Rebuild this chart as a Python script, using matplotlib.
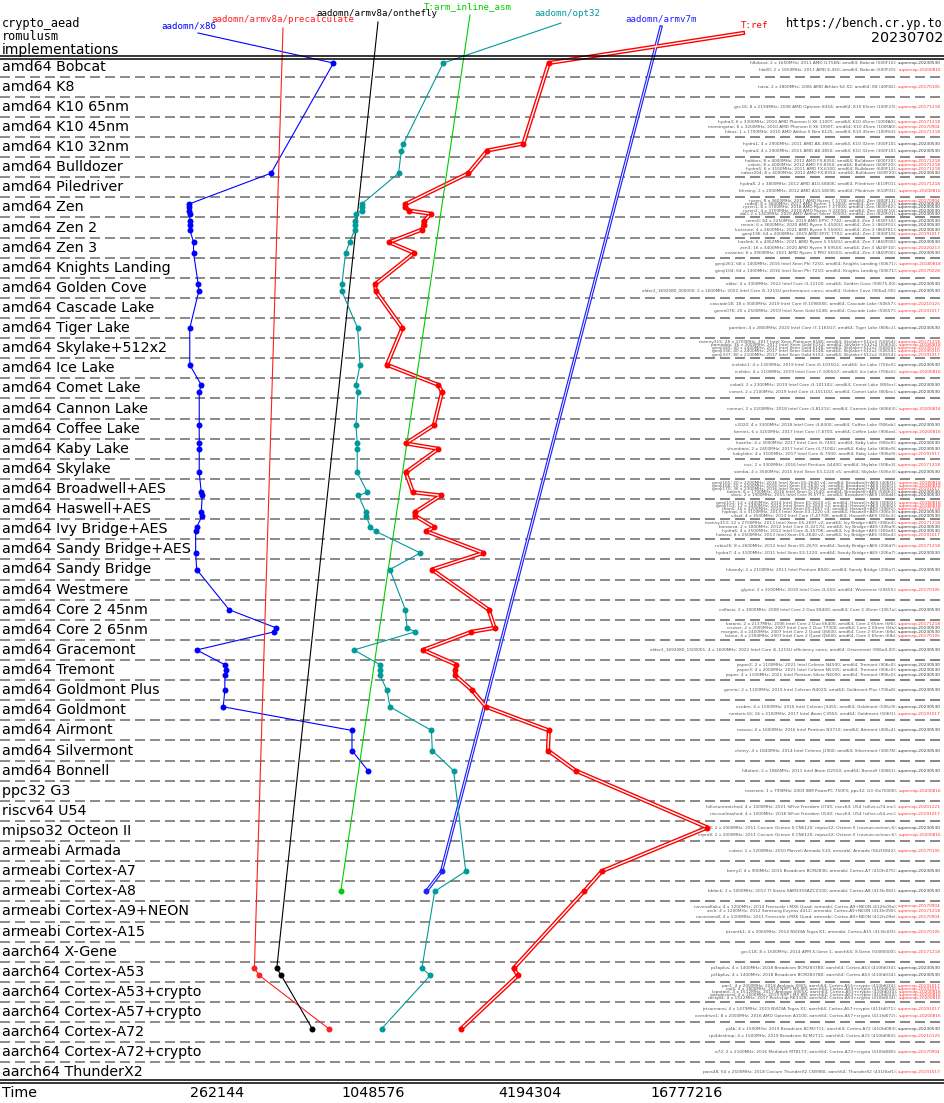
import numpy as np
import matplotlib
matplotlib.use('agg')
import matplotlib.pyplot as plt
from matplotlib.lines import Line2D

W, H = 945, 1103

# ---------------------------------------------------------------- data
rows = ["amd64 Bobcat", "amd64 K8", "amd64 K10 65nm", "amd64 K10 45nm", "amd64 K10 32nm",
        "amd64 Bulldozer", "amd64 Piledriver", "amd64 Zen", "amd64 Zen 2", "amd64 Zen 3",
        "amd64 Knights Landing", "amd64 Golden Cove", "amd64 Cascade Lake", "amd64 Tiger Lake",
        "amd64 Skylake+512x2", "amd64 Ice Lake", "amd64 Comet Lake", "amd64 Cannon Lake",
        "amd64 Coffee Lake", "amd64 Kaby Lake", "amd64 Skylake", "amd64 Broadwell+AES",
        "amd64 Haswell+AES", "amd64 Ivy Bridge+AES", "amd64 Sandy Bridge+AES", "amd64 Sandy Bridge",
        "amd64 Westmere", "amd64 Core 2 45nm", "amd64 Core 2 65nm", "amd64 Gracemont",
        "amd64 Tremont", "amd64 Goldmont Plus", "amd64 Goldmont", "amd64 Airmont",
        "amd64 Silvermont", "amd64 Bonnell", "ppc32 G3", "riscv64 U54", "mipso32 Octeon II",
        "armeabi Armada", "armeabi Cortex-A7", "armeabi Cortex-A8", "armeabi Cortex-A9+NEON",
        "armeabi Cortex-A15", "aarch64 X-Gene", "aarch64 Cortex-A53", "aarch64 Cortex-A53+crypto",
        "aarch64 Cortex-A57+crypto", "aarch64 Cortex-A72", "aarch64 Cortex-A72+crypto",
        "aarch64 ThunderX2"]

# machines per row: (description, supercop version)
machines = [
    [("h8obcat; 2 x 1650MHz; 2011 AMD G-T56N; amd64; Bobcat (500F10)", "20230530"),
     ("hla00; 2 x 1650MHz; 2011 AMD E-450; amd64; Bobcat (500F20)", "20200816")],
    [("nasa; 2 x 2800MHz; 2006 AMD Athlon 64 X2; amd64; K8 (40F82)", "20170105")],
    [("gcc16; 8 x 2194MHz; 2008 AMD Opteron 8354; amd64; K10 65nm (100F23)", "20171218")],
    [("hydra3; 6 x 3300MHz; 2010 AMD Phenom II X6 1100T; amd64; K10 45nm (100FA0)", "20171218"),
     ("morningstar; 6 x 3200MHz; 2010 AMD Phenom II X6 1090T; amd64; K10 45nm (100FA0)", "20170904"),
     ("hlaus; 1 x 1700MHz; 2010 AMD Athlon II Neo K125; amd64; K10 45nm (100F63)", "20171218")],
    [("hydra1; 4 x 2900MHz; 2011 AMD A8-3850; amd64; K10 32nm (300F10)", "20230530"),
     ("hydra4; 4 x 2900MHz; 2011 AMD A8-3850; amd64; K10 32nm (300F10)", "20230530")],
    [("hobbes; 8 x 4000MHz; 2012 AMD FX-8350; amd64; Bulldozer (600F20)", "20171218"),
     ("caloin; 8 x 4000MHz; 2012 AMD FX-8350; amd64; Bulldozer (600F20)", "20171218"),
     ("hydra5; 6 x 3100MHz; 2011 AMD FX-6100; amd64; Bulldozer (600F12)", "20171218"),
     ("naber204; 8 x 4000MHz; 2012 AMD FX-8350; amd64; Bulldozer (600F20)", "20230530")],
    [("hydra8; 2 x 3800MHz; 2012 AMD A10-5800K; amd64; Piledriver (610F01)", "20171218"),
     ("bhrainy; 2 x 2000MHz; 2012 AMD A10-5800K; amd64; Piledriver (610F01)", "20200816")],
    [("ryzen; 8 x 3600MHz; 2017 AMD Ryzen 7 1700; amd64; Zen (800F11)", "20170904"),
     ("rudolf; 8 x 3600MHz; 2017 AMD Ryzen 7 1700X; amd64; Zen (800F11)", "20230530"),
     ("ryzen1; 8 x 3700MHz; 2018 AMD Ryzen 7 2700X; amd64; Zen (800F82)", "20230530"),
     ("ryzen2; 4 x 3700MHz; 2018 AMD Ryzen 3 2200G; amd64; Zen (810F10)", "20230530"),
     ("dali; 2 x 1400MHz; 2020 AMD Athlon Silver 3050U; amd64; Zen (820F01)", "20230530")],
    [("rome0; 64 x 2250MHz; 2019 AMD EPYC 7742; amd64; Zen 2 (830F10)", "20230530"),
     ("renoir; 6 x 3600MHz; 2020 AMD Ryzen 5 4500U; amd64; Zen 2 (860F01)", "20230530"),
     ("lucienne; 4 x 2600MHz; 2021 AMD Ryzen 5 5500U; amd64; Zen 2 (860F81)", "20230530"),
     ("genji196; 64 x 2000MHz; 2019 AMD EPYC 7702; amd64; Zen 2 (830F10)", "20191017")],
    [("hazlink; 6 x 4062MHz; 2021 AMD Ryzen 5 5560U; amd64; Zen 3 (A50F00)", "20230530"),
     ("zen3; 16 x 3400MHz; 2020 AMD Ryzen 9 5950X; amd64; Zen 3 (A20F10)", "20220213"),
     ("cezanne; 6 x 3900MHz; 2021 AMD Ryzen 5 PRO 5650G; amd64; Zen 3 (A50F00)", "20230530")],
    [("genji261; 68 x 1400MHz; 2016 Intel Xeon Phi 7250; amd64; Knights Landing (50671)", "20180818"),
     ("genji104; 64 x 1300MHz; 2016 Intel Xeon Phi 7210; amd64; Knights Landing (50671)", "20170228")],
    [("alder; 4 x 3300MHz; 2022 Intel Core i3-12100; amd64; Golden Cove (90675-00)", "20230530"),
     ("alder2_1692080_000000; 2 x 1600MHz; 2022 Intel Core i5-1215U performance cores; amd64; Golden Cove (906a4-00)", "20230530")],
    [("cascade18; 18 x 3000MHz; 2019 Intel Core i9-10980XE; amd64; Cascade Lake (50657)", "20210125"),
     ("genm076; 20 x 2500MHz; 2019 Intel Xeon Gold 6248; amd64; Cascade Lake (50657)", "20191017")],
    [("pamber; 4 x 2800MHz; 2020 Intel Core i7-1165G7; amd64; Tiger Lake (806c1)", "20230530")],
    [("manny315; 28 x 2700MHz; 2017 Intel Xeon Platinum 8180; amd64; Skylake+512x2 (50654)", "20171218"),
     ("pamaddx; 36 x 3000MHz; 2017 Intel Xeon Gold 6154; amd64; Skylake+512x2 (50654)", "20180818"),
     ("genji345; 40 x 2400MHz; 2017 Intel Xeon Gold 6148; amd64; Skylake+512x2 (50654)", "20190110"),
     ("genji336; 40 x 2400MHz; 2017 Intel Xeon Gold 6148; amd64; Skylake+512x2 (50654)", "20190110"),
     ("genji337; 80 x 2100MHz; 2017 Intel Xeon Gold 6152; amd64; Skylake+512x2 (50654)", "20191017")],
    [("icelake1; 4 x 1300MHz; 2019 Intel Core i5-1035G1; amd64; Ice Lake (706e5)", "20230530"),
     ("icelake; 4 x 1100MHz; 2019 Intel Core i7-1065G7; amd64; Ice Lake (706e5)", "20200816")],
    [("cobalt; 2 x 2300MHz; 2019 Intel Core i3-10110U; amd64; Comet Lake (806ec)", "20230530"),
     ("comet; 2 x 2100MHz; 2019 Intel Core i3-10110U; amd64; Comet Lake (806ec)", "20230530")],
    [("cannon; 2 x 2200MHz; 2018 Intel Core i3-8121U; amd64; Cannon Lake (60663)", "20200816")],
    [("c2020; 4 x 3300MHz; 2018 Intel Core i3-8300; amd64; Coffee Lake (906eb)", "20230530"),
     ("berries; 6 x 3200MHz; 2017 Intel Core i7-8700; amd64; Coffee Lake (906ea)", "20200816")],
    [("kaarike; 4 x 3000MHz; 2017 Intel Core i5-7400; amd64; Kaby Lake (906e9)", "20230530"),
     ("shumbara; 2 x 2400MHz; 2017 Intel Core i3-7100U; amd64; Kaby Lake (806e9)", "20230530"),
     ("kabylake; 4 x 3100MHz; 2017 Intel Core i5-7500; amd64; Kaby Lake (906e9)", "20191017")],
    [("nuc; 2 x 3300MHz; 2016 Intel Pentium G4400; amd64; Skylake (506e3)", "20171218"),
     ("samba; 4 x 3500MHz; 2015 Intel Xeon E3-1220 v5; amd64; Skylake (506e3)", "20230530")],
    [("genji165; 20 x 2200MHz; 2016 Intel Xeon E5-2630 v4; amd64; Broadwell+AES (406f1)", "20180818"),
     ("genji166; 20 x 2200MHz; 2016 Intel Xeon E5-2630 v4; amd64; Broadwell+AES (406f1)", "20180818"),
     ("genji170; 36 x 2300MHz; 2016 Intel Xeon E5-2699 v4; amd64; Broadwell+AES (406f1)", "20191017"),
     ("bolero; 8 x 1700MHz; 2016 Intel Xeon D-1540; amd64; Broadwell+AES (50663)", "20230530"),
     ("sbox; 2 x 1900MHz; 2015 Intel Core M-5Y71; amd64; Broadwell+AES (306d4)", "20230530")],
    [("genji152; 12 x 2400MHz; 2014 Intel Xeon E5-2620 v3; amd64; Haswell+AES (306f2)", "20180818"),
     ("genji153; 12 x 2400MHz; 2014 Intel Xeon E5-2620 v3; amd64; Haswell+AES (306f2)", "20180818"),
     ("titan0; 16 x 3200MHz; 2014 Intel Xeon E5-2667 v3; amd64; Haswell+AES (306f2)", "20171218"),
     ("hiphop; 4 x 3100MHz; 2013 Intel Xeon E3-1220 v3; amd64; Haswell+AES (306c3)", "20230530"),
     ("vitsel; 4 x 3500MHz; 2013 Intel Core i7-4770K; amd64; Haswell+AES (306c3)", "20230530")],
    [("manny313; 12 x 2700MHz; 2013 Intel Xeon E5-2697 v2; amd64; Ivy Bridge+AES (306e4)", "20171218"),
     ("bonanza; 2 x 1800MHz; 2012 Intel Core i3-3217U; amd64; Ivy Bridge+AES (306a9)", "20230530"),
     ("hydra6; 4 x 3500MHz; 2012 Intel Core i5-3570K; amd64; Ivy Bridge+AES (306a9)", "20230530"),
     ("hoboro; 8 x 2500MHz; 2013 Intel Xeon E5-2640 v2; amd64; Ivy Bridge+AES (306e4)", "20191017")],
    [("rubio26; 8 x 2600MHz; 2012 Intel Xeon E5-2670; amd64; Sandy Bridge+AES (206d7)", "20171218"),
     ("hydra7; 4 x 3100MHz; 2011 Intel Xeon E3-1220; amd64; Sandy Bridge+AES (206a7)", "20230530")],
    [("hlsandy; 2 x 2100MHz; 2011 Intel Pentium B940; amd64; Sandy Bridge (206a7)", "20230530")],
    [("glyme; 2 x 3200MHz; 2010 Intel Core i3-550; amd64; Westmere (20655)", "20170105")],
    [("colfaxis; 2 x 3000MHz; 2008 Intel Core 2 Duo E8400; amd64; Core 2 45nm (1067a)", "20230530")],
    [("katana; 2 x 2137MHz; 2006 Intel Core 2 Duo E6400; amd64; Core 2 65nm (6f6)", "20171218"),
     ("cruiser; 2 x 2000MHz; 2007 Intel Core 2 Duo T7300; amd64; Core 2 65nm (6fa)", "20230530"),
     ("morgan; 4 x 2400MHz; 2007 Intel Core 2 Quad Q6600; amd64; Core 2 65nm (6fb)", "20230530"),
     ("latour; 4 x 2394MHz; 2007 Intel Core 2 Quad Q6600; amd64; Core 2 65nm (6fb)", "20170105")],
    [("alder2_1692080_1500001; 4 x 1600MHz; 2022 Intel Core i5-1215U efficiency cores; amd64; Gracemont (906a4-00)", "20230530")],
    [("jasper2; 2 x 1100MHz; 2021 Intel Celeron N4500; amd64; Tremont (906c0)", "20230530"),
     ("jasper3; 4 x 2000MHz; 2021 Intel Celeron N5105; amd64; Tremont (906c0)", "20230530"),
     ("jasper; 4 x 1100MHz; 2021 Intel Pentium Silver N6000; amd64; Tremont (906c0)", "20230530")],
    [("gemini; 2 x 1100MHz; 2019 Intel Celeron N4020; amd64; Goldmont Plus (706a8)", "20230530")],
    [("ecobm; 4 x 1500MHz; 2016 Intel Celeron J3455; amd64; Goldmont (506c9)", "20230530"),
     ("neoteric16; 16 x 2100MHz; 2017 Intel Atom C3955; amd64; Goldmont (506f1)", "20191017")],
    [("maxau; 4 x 1600MHz; 2016 Intel Pentium N3710; amd64; Airmont (406c4)", "20230530")],
    [("cherry; 4 x 1840MHz; 2014 Intel Celeron J1900; amd64; Silvermont (30678)", "20230530")],
    [("h8atom; 2 x 1866MHz; 2011 Intel Atom D2550; amd64; Bonnell (30661)", "20230530")],
    [("macmini; 1 x 799MHz; 2003 IBM PowerPC 750FX; ppc32; G3 (0x70000)", "20200816")],
    [("hifiveunmatched; 4 x 1000MHz; 2021 SiFive Freedom U740; riscv64; U54 (sifive,u74-mc)", "20201221"),
     ("riscvunleashed; 4 x 1000MHz; 2018 SiFive Freedom U540; riscv64; U54 (sifive,u54-mc)", "20191017")],
    [("gcc23; 2 x 2000MHz; 2011 Cavium Octeon II CN6120; mipso32; Octeon II (cavium,octeon-6)", "20230530"),
     ("erpro8; 2 x 2000MHz; 2011 Cavium Octeon II CN6120; mipso32; Octeon II (cavium,octeon-6)", "20200816")],
    [("cubox; 1 x 1200MHz; 2010 Marvell Armada 510; armeabi; Armada (562f5842)", "20170105")],
    [("berry2; 4 x 900MHz; 2015 Broadcom BCM2836; armeabi; Cortex-A7 (410fc075)", "20230530")],
    [("bblack; 1 x 1000MHz; 2012 TI Sitara XAM3359AZCZ100; armeabi; Cortex-A8 (413fc082)", "20230530")],
    [("novenaKaliu; 4 x 1200MHz; 2014 Freescale i.MX6 Quad; armeabi; Cortex-A9+NEON (412fc09a)", "20170904"),
     ("arch; 4 x 1200MHz; 2012 Samsung Exynos 4412; armeabi; Cortex-A9+NEON (413fc090)", "20171218"),
     ("novenamdl; 4 x 1200MHz; 2011 Freescale i.MX6 Quad; armeabi; Cortex-A9+NEON (412fc09a)", "20170904")],
    [("jetsontk1; 4 x 2065MHz; 2014 NVIDIA Tegra K1; armeabi; Cortex-A15 (413fc0f3)", "20170105")],
    [("gcc118; 8 x 1600MHz; 2014 APM X-Gene 1; aarch64; X-Gene (500f0000)", "20171218")],
    [("pi3aplus; 4 x 1400MHz; 2018 Broadcom BCM2837B0; aarch64; Cortex-A53 (410fd034)", "20230530"),
     ("pi3bplus; 4 x 1400MHz; 2018 Broadcom BCM2837B0; aarch64; Cortex-A53 (410fd034)", "20230530")],
    [("par1; 4 x 2000MHz; 2018 Amlogic S905; aarch64; Cortex-A53+crypto (410fd034)", "20191017"),
     ("cpi4; 4 x 1800MHz; 2018 NXP i.MX 8M; aarch64; Cortex-A53+crypto (410fd034)", "20191017"),
     ("lxpotato; 4 x 1512MHz; 2017 Amlogic S905X; aarch64; Cortex-A53+crypto (410fd034)", "20200816"),
     ("googlecoral; 4 x 1500MHz; 2019 NXP i.MX 8M; aarch64; Cortex-A53+crypto (410fd034)", "20200816"),
     ("rockpi4; 4 x 1512MHz; 2017 Rockchip RK3328; aarch64; Cortex-A53+crypto (410fd034)", "20200816")],
    [("jetsonnano; 4 x 1479MHz; 2019 NVIDIA Tegra X1; aarch64; Cortex-A57+crypto (411fd071)", "20191017"),
     ("overdrive1; 8 x 2000MHz; 2016 AMD Opteron A1100; aarch64; Cortex-A57+crypto (411fd072)", "20200816")],
    [("pi4b; 4 x 1500MHz; 2019 Broadcom BCM2711; aarch64; Cortex-A72 (410fd083)", "20230530"),
     ("rpi4desktop; 4 x 1500MHz; 2019 Broadcom BCM2711; aarch64; Cortex-A72 (410fd083)", "20210125")],
    [("a72; 2 x 2100MHz; 2016 Mediatek MT8173; aarch64; Cortex-A72+crypto (410fd080)", "20170904")],
    [("pass48; 64 x 2500MHz; 2018 Cavium ThunderX2 CN9980; aarch64; ThunderX2 (431f0af1)", "20191017")],
]

# implementation results: (row, machine, cycles)
x86 = [(0, 0, 735000), (5, 3, 423000), (7, 1, 204000), (7, 2, 204000), (7, 3, 204000),
       (7, 4, 206000), (8, 0, 206000), (8, 1, 206000), (8, 2, 206000), (9, 0, 213000),
       (9, 2, 213000), (11, 0, 222000), (11, 1, 223000), (13, 0, 206000), (15, 0, 206000),
       (16, 0, 228000), (16, 1, 224000), (18, 0, 224000), (19, 0, 224000), (19, 1, 224000),
       (20, 1, 224000), (21, 3, 228000), (21, 4, 230000), (22, 3, 228000), (22, 4, 230000),
       (23, 1, 219000), (23, 2, 217000), (24, 1, 217000), (25, 0, 219000), (27, 0, 292000),
       (28, 1, 442000), (28, 2, 434000), (29, 0, 219000), (30, 0, 281000), (30, 1, 285000),
       (30, 2, 281000), (31, 0, 281000), (32, 0, 277000), (33, 0, 866000), (34, 0, 866000),
       (35, 0, 998000)]
opt32 = [(0, 0, 1942000), (4, 0, 1366000), (4, 1, 1341000), (5, 3, 1308000), (7, 1, 943000),
         (7, 2, 943000), (7, 3, 943000), (7, 4, 901000), (8, 0, 888000), (8, 1, 888000),
         (8, 2, 888000), (9, 0, 848000), (9, 2, 818000), (11, 0, 792000), (11, 1, 792000),
         (13, 0, 910000), (15, 0, 930000), (16, 0, 897000), (16, 1, 913000), (18, 0, 897000),
         (19, 0, 907000), (19, 1, 907000), (20, 1, 907000), (21, 3, 992000), (21, 4, 917000),
         (22, 3, 980000), (22, 4, 980000), (23, 1, 1020000), (23, 2, 1068000), (24, 1, 1585000),
         (25, 0, 1211000), (27, 0, 1389000), (28, 1, 1410000), (28, 2, 1513000), (29, 0, 882000),
         (30, 0, 1110000), (30, 1, 1110000), (30, 2, 1110000), (31, 0, 1180000), (32, 0, 1212000),
         (33, 0, 1750000), (34, 0, 1763000), (35, 0, 2129000), (40, 0, 2370000), (41, 0, 1801000),
         (45, 0, 1608000), (45, 1, 1732000), (48, 0, 1126000)]
ref = [(0, 0, 4946000), (4, 0, 3951000), (4, 1, 2869000), (5, 3, 2429000), (7, 1, 1390000),
       (7, 2, 1390000), (7, 3, 1438000), (7, 4, 1743000), (8, 0, 1631000), (8, 1, 1631000),
       (8, 2, 1610000), (9, 0, 1202000), (9, 2, 1504000), (11, 0, 1062000), (11, 1, 1071000),
       (13, 0, 1351000), (15, 0, 1180000), (16, 0, 1861000), (16, 1, 1922000), (18, 0, 1789000),
       (19, 0, 1393000), (19, 1, 1861000), (20, 1, 1393000), (21, 3, 1486000), (21, 4, 1901000),
       (22, 3, 1509000), (22, 4, 1509000), (23, 1, 1793000), (23, 2, 1672000), (24, 1, 2769000),
       (25, 0, 1758000), (27, 0, 2903000), (28, 1, 3060000), (28, 2, 2491000), (29, 0, 1624000),
       (30, 0, 2181000), (30, 1, 2160000), (30, 2, 2160000), (31, 0, 2507000), (32, 0, 2838000),
       (33, 0, 4946000), (34, 0, 4909000), (35, 0, 6275000), (38, 0, 20133000), (40, 0, 7903000),
       (41, 0, 6753000), (45, 0, 3618000), (45, 1, 3765000), (48, 0, 2278000)]
onthefly = [(45, 0, 445000), (45, 1, 463000), (48, 0, 609000)]
precalc = [(45, 0, 365000), (45, 1, 381000), (48, 0, 705000)]
inline_asm = [(41, 0, 784000)]
armv7m = [(40, 0, 1914000), (41, 0, 1672000)]

# name, data, colour, double-line widths (outer, inner) or None, label centre (px), leader start (px)
impls = [
    ("aadomn/x86", x86, "#0000ff", None, (189, 26), (198, 33)),
    ("aadomn/armv8a/precalculate", precalc, "#ff2020", None, (283, 20), (283, 28)),
    ("aadomn/armv8a/onthefly", onthefly, "#000000", None, (377, 13), (378, 22)),
    ("T:arm_inline_asm", inline_asm, "#00cc00", None, (468, 7), (470, 15)),
    ("aadomn/opt32", opt32, "#009a9a", None, (567, 14), (561, 23)),
    ("aadomn/armv7m", armv7m, "#2020ff", (2.4, 0.7), (661, 19), (661, 27)),
    ("T:ref", ref, "#ff0000", (3.0, 1.0), (755, 25), (743, 33)),
]

# ---------------------------------------------------------------- layout
TOP, BOT = 56.5, 1082.5
fig = plt.figure(figsize=(W / 100, H / 100), dpi=100)
ax = fig.add_axes([0, 1 - BOT / H, 1, (BOT - TOP) / H])
ax.set_xscale('log', base=2)
ax.set_xlim(2 ** (18 - 217 / 78.3), 2 ** (18 + (W - 217) / 78.3))
ax.set_ylim(len(rows) - 0.5, -0.5)
for s in ax.spines.values():
    s.set_visible(False)
ax.set_yticks([])
ax.set_xticks([2 ** 18, 2 ** 20, 2 ** 22, 2 ** 24],
              labels=["262144", "1048576", "4194304", "16777216"])
ax.tick_params(axis='x', length=0, pad=2.5, labelsize=10.3)
ax.minorticks_off()


def ypos(r, m):
    n = len(machines[r])
    s = min(0.35, 0.8 / n)
    return r + (m - (n - 1) / 2) * s


def from_px(px, py):
    return ax.transData.inverted().transform((px, H - py))


# row separators and frame lines
for k in range(len(rows) - 1):
    ax.axhline(k + 0.5, color='#777777', lw=1.2, ls=(0, (6, 3)), zorder=1)
for py in (56, 59, 1079.5, 1083):
    fig.add_artist(Line2D([0, 1], [1 - py / H] * 2, color='black', lw=1.1))

ytr = ax.get_yaxis_transform()
for r, name in enumerate(rows):
    ax.text(2 / W, r, name, transform=ytr, ha='left', va='center',
            fontsize=10.3, color='black')

used = set()
for _, data, *_ in impls:
    used.update((r, m) for r, m, _ in data)

for r, ms in enumerate(machines):
    for m, (desc, ver) in enumerate(ms):
        y = ypos(r, m)
        vc = '#333333' if (r, m) in used else '#ff3030'
        vt = ax.text(941 / W, y, 'supercop-' + ver, transform=ytr, ha='right',
                     va='center', fontsize=3.1, color=vc)
        ax.annotate(desc + '; ', xy=(0, 0.5), xycoords=vt, ha='right', va='center',
                    fontsize=3.1, color='#555555')

# implementation lines
for name, data, col, dbl, (cx, cy), (lx, ly) in impls:
    t = [c for _, _, c in data]
    y = [ypos(r, m) for r, m, _ in data]
    a = from_px(lx, ly)
    xs = [a[0]] + t
    ys = [a[1]] + y
    if dbl:
        ax.plot(xs, ys, color=col, lw=dbl[0], clip_on=False, zorder=2)
        ax.plot(xs, ys, color='white', lw=dbl[1], clip_on=False, zorder=2.1)
    else:
        ax.plot(xs, ys, color=col, lw=0.8, clip_on=False, zorder=3)
    ax.plot(t, y, 'o', color=col, ms=4.3, mew=0, clip_on=False, zorder=4)
    fig.text(cx / W, 1 - cy / H, name, ha='center', va='center',
             family='DejaVu Sans Mono', fontsize=6.6, color=col)

# header / footer text
fig.text(2 / W, 1 - 23 / H, 'crypto_aead', family='DejaVu Sans Mono', fontsize=8.6, va='center')
fig.text(2 / W, 1 - 37 / H, 'romulusm', family='DejaVu Sans Mono', fontsize=8.6, va='center')
fig.text(2 / W, 1 - 50 / H, 'implementations', fontsize=10, va='center')
fig.text(943 / W, 1 - 23 / H, 'https://bench.cr.yp.to', family='DejaVu Sans Mono',
         fontsize=8.6, va='center', ha='right')
fig.text(943 / W, 1 - 38 / H, '20230702', fontsize=10.3, va='center', ha='right')
fig.text(2 / W, 1 - 1093 / H, 'Time', fontsize=10.3, va='center')

fig.savefig('out.png', dpi=100)
